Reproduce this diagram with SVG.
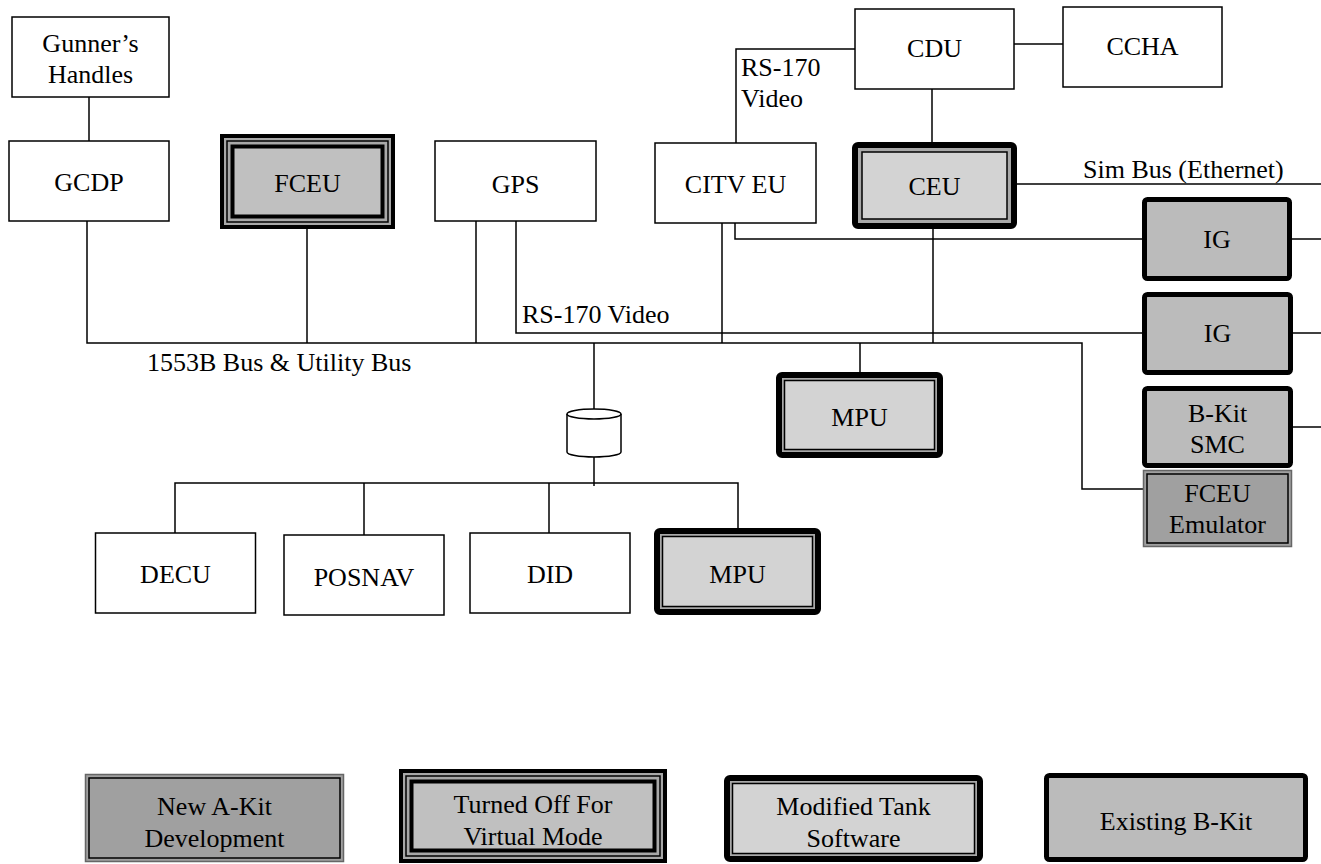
<svg xmlns="http://www.w3.org/2000/svg" width="1321" height="864" viewBox="0 0 1321 864">
<style>
text{font-family:"Liberation Serif","Times New Roman",serif;font-size:26px;fill:#000}
.c{text-anchor:middle}
.plain{fill:#fff;stroke:#000;stroke-width:1.5}
.ln{fill:none;stroke:#000;stroke-width:1.5}
.triA{fill:#a8a8a8;stroke:#000;stroke-width:4}
.triB{fill:none;stroke:#000;stroke-width:1.5}
.triC{fill:#c0c0c0;stroke:#000;stroke-width:4}
.modO{fill:#a8a8a8;stroke:#000;stroke-width:6}
.modI{fill:#d3d3d3;stroke:#000;stroke-width:1.5}
.exi{fill:#bbbbbb;stroke:#000;stroke-width:5}
.newO{fill:#a0a0a0;stroke:#666;stroke-width:1.5}
.newI{fill:none;stroke:#000;stroke-width:1.5}
</style>
<rect width="1321" height="864" fill="#fff"/>
<g id="connectors">
<path class="ln" d="M89,97V141"/>
<path class="ln" d="M87,221V343H1082V489H1143"/>
<path class="ln" d="M307,229V343"/>
<path class="ln" d="M476,221V343"/>
<path class="ln" d="M516,221V333H1142"/>
<path class="ln" d="M722,223V343"/>
<path class="ln" d="M735,223V239H1142"/>
<path class="ln" d="M736,143V49H855"/>
<path class="ln" d="M1014,44H1063"/>
<path class="ln" d="M932,89V142"/>
<path class="ln" d="M933,229V343"/>
<path class="ln" d="M1017,184H1321"/>
<path class="ln" d="M1292,239H1321"/>
<path class="ln" d="M1293,333H1321"/>
<path class="ln" d="M1293,427H1321"/>
<path class="ln" d="M860,343V372"/>
<path class="ln" d="M594,343V409"/>
<path class="ln" d="M594,457V486"/>
<path class="ln" d="M175,533V483H738V528"/>
<path class="ln" d="M364,483V535"/>
<path class="ln" d="M549,483V533"/>
</g>
<g id="labels">
<text x="741" y="76">RS-170</text>
<text x="741" y="107">Video</text>
<text x="1083" y="178">Sim Bus (Ethernet)</text>
<text x="522" y="323">RS-170 Video</text>
<text x="147" y="371">1553B Bus &amp; Utility Bus</text>
</g>
<g id="gunners-handles"><rect class="plain" x="12" y="17" width="157" height="80"/><text class="c" x="90.5" y="52">Gunner’s</text><text class="c" x="90.5" y="83">Handles</text></g>
<g id="gcdp"><rect class="plain" x="9" y="141" width="160" height="80"/><text class="c" x="89" y="191">GCDP</text></g>
<g id="fceu"><rect class="triA" x="222" y="136" width="171" height="91"/><rect class="triB" x="227" y="141" width="161" height="81"/><rect class="triC" x="232.5" y="146.5" width="150" height="70"/><text class="c" x="307.5" y="192">FCEU</text></g>
<g id="gps"><rect class="plain" x="435" y="141" width="161" height="80"/><text class="c" x="515.5" y="193">GPS</text></g>
<g id="citv-eu"><rect class="plain" x="655" y="143" width="161" height="80"/><text class="c" x="735.5" y="193">CITV EU</text></g>
<g id="cdu"><rect class="plain" x="855" y="9" width="159" height="80"/><text class="c" x="934.5" y="57">CDU</text></g>
<g id="ccha"><rect class="plain" x="1063" y="7" width="159" height="80"/><text class="c" x="1142.5" y="55">CCHA</text></g>
<g id="ceu"><rect class="modO" x="855" y="145" width="159" height="81" rx="3"/><rect class="modI" x="862" y="152" width="145" height="67"/><text class="c" x="934.5" y="195">CEU</text></g>
<g id="ig1"><rect class="exi" x="1144.5" y="199.5" width="145" height="79" rx="3"/><text class="c" x="1217" y="248">IG</text></g>
<g id="ig2"><rect class="exi" x="1144.5" y="294.5" width="146" height="78" rx="3"/><text class="c" x="1217.5" y="342">IG</text></g>
<g id="bkit-smc"><rect class="exi" x="1144.5" y="388.5" width="146" height="77" rx="3"/><text class="c" x="1217.5" y="422">B-Kit</text><text class="c" x="1217.5" y="453">SMC</text></g>
<g id="fceu-emulator"><rect class="newO" x="1143.5" y="470.5" width="148" height="76"/><rect class="newI" x="1147" y="474" width="141" height="69"/><text class="c" x="1217.5" y="502">FCEU</text><text class="c" x="1217.5" y="533">Emulator</text></g>
<g id="mpu1"><rect class="modO" x="779" y="375" width="161" height="80" rx="3"/><rect class="modI" x="784.5" y="380.5" width="150" height="69"/><text class="c" x="859.5" y="426">MPU</text></g>
<g id="storage"><path d="M567,414A27,5 0 0,1 621,414V452A27,5 0 0,1 567,452Z" fill="#fff" stroke="#000" stroke-width="1.5"/><path class="ln" d="M567,414A27,5 0 0,0 621,414"/></g>
<g id="decu"><rect class="plain" x="95.5" y="533" width="160" height="80"/><text class="c" x="175.5" y="583">DECU</text></g>
<g id="posnav"><rect class="plain" x="284" y="535" width="160" height="80"/><text class="c" x="364" y="586">POSNAV</text></g>
<g id="did"><rect class="plain" x="470" y="533" width="160" height="80"/><text class="c" x="550" y="583">DID</text></g>
<g id="mpu2"><rect class="modO" x="657" y="531" width="161" height="81" rx="3"/><rect class="modI" x="662.5" y="536.5" width="150" height="70"/><text class="c" x="737.5" y="583">MPU</text></g>
<g id="legend-new"><rect class="newO" x="85.5" y="774.5" width="258" height="87"/><rect class="newI" x="89" y="778" width="251" height="80"/><text class="c" x="214.5" y="815">New A-Kit</text><text class="c" x="214.5" y="847">Development</text></g>
<g id="legend-off"><rect class="triA" x="401" y="771" width="264" height="90"/><rect class="triB" x="406" y="776" width="254" height="80"/><rect class="triC" x="411.5" y="781.5" width="243" height="69"/><text class="c" x="533" y="813">Turned Off For</text><text class="c" x="533" y="845">Virtual Mode</text></g>
<g id="legend-mod"><rect class="modO" x="727" y="778" width="253" height="81" rx="3"/><rect class="modI" x="732.5" y="783.5" width="242" height="70"/><text class="c" x="853.5" y="815">Modified Tank</text><text class="c" x="853.5" y="847">Software</text></g>
<g id="legend-existing"><rect class="exi" x="1046.5" y="775.5" width="259" height="84" rx="3"/><text class="c" x="1176" y="830">Existing B-Kit</text></g>
</svg>
